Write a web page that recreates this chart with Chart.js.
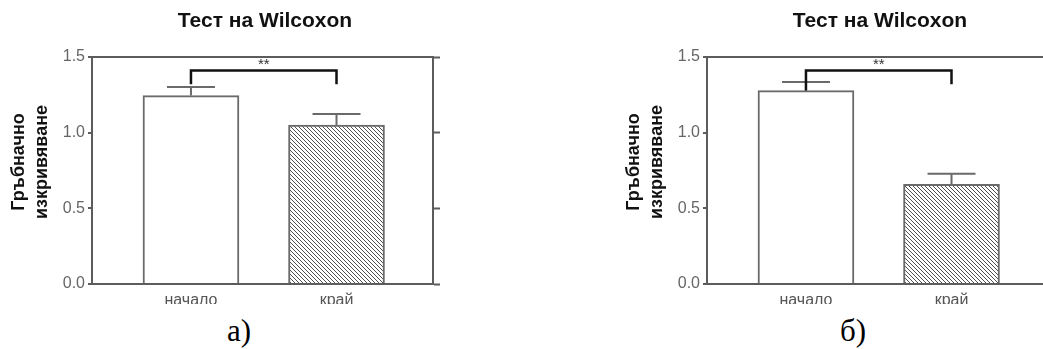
<!DOCTYPE html>
<html>
<head>
<meta charset="utf-8">
<script src="https://cdn.jsdelivr.net/npm/chart.js@4/dist/chart.umd.min.js"></script>
<style>
  html, body { margin: 0; padding: 0; background: #fff; width: 1043px; height: 349px; overflow: hidden; position: relative; }
  .panel { position: absolute; top: 0; height: 304px; overflow: hidden; }
  .panel canvas { position: absolute; left: 0; top: 0; }
  .cap { position: absolute; top: 315px; font-family: "Liberation Serif", "Times New Roman", serif; font-size: 31px; color: #000; transform: translateX(-50%); line-height: 1; white-space: nowrap; }
</style>
</head>
<body>
<div class="panel" style="left:0; width:560px;"><canvas id="chartA" width="530" height="320"></canvas></div>
<div class="panel" style="left:615px; width:428px;"><canvas id="chartB" width="530" height="320"></canvas></div>
<div class="cap" style="left:239px;">а)</div>
<div class="cap" style="left:853px;">б)</div>
<script>
// Groups and measured means with their standard errors
const categories = ['начало', 'край'];
const meansA = [1.245, 1.05];
const semA = [0.056, 0.073];
const meansB = [1.278, 0.658];
const semB = [0.056, 0.07];
const yTicks = [0, 0.5, 1.0, 1.5];

// Text and significance bracket
const chartTitle = 'Тест на Wilcoxon';
const yTitleLines = ['Гръбначно', 'изкривяване'];
const sigLabel = '**';
const bracketLevel = 1.41;
const bracketLegsA = [1.32, 1.32];
const bracketLegsB = [1.278, 1.32];

const SANS = '"Liberation Sans", Arial, Helvetica, sans-serif';
const AXIS = '#5c5c5c';
const BAR_EDGE = '#6a6a6a';

// Diagonal hatch fill for the second bar
function hatchPattern() {
  const s = 4;
  const c = document.createElement('canvas');
  c.width = s; c.height = s;
  const g = c.getContext('2d');
  g.fillStyle = '#ffffff';
  g.fillRect(0, 0, s, s);
  g.strokeStyle = '#505050';
  g.lineWidth = 1;
  g.beginPath();
  g.moveTo(-1, -1); g.lineTo(s + 1, s + 1);
  g.moveTo(-1, s - 1); g.lineTo(1, s + 1);
  g.moveTo(s - 1, -1); g.lineTo(s + 1, 1);
  g.stroke();
  return g.createPattern(c, 'repeat');
}

// Error bars, significance bracket and the two-line y title
function overlay(sem, legs) {
  return {
    id: 'overlay',
    afterDatasetsDraw(chart) {
      const { ctx } = chart;
      const x = chart.scales.x, y = chart.scales.y;
      const meta = chart.getDatasetMeta(0);
      ctx.save();
      ctx.strokeStyle = BAR_EDGE;
      ctx.lineWidth = 2;
      meta.data.forEach((bar, i) => {
        const v = chart.data.datasets[0].data[i].y;
        const cx = x.getPixelForValue(i);
        const y0 = y.getPixelForValue(v);
        const y1 = y.getPixelForValue(v + sem[i]);
        const half = bar.width / 4;
        ctx.beginPath();
        ctx.moveTo(cx, y0); ctx.lineTo(cx, y1);
        ctx.moveTo(cx - half, y1); ctx.lineTo(cx + half, y1);
        ctx.stroke();
      });
      const xa = x.getPixelForValue(0);
      const xb = x.getPixelForValue(1);
      const yl = y.getPixelForValue(bracketLevel);
      ctx.strokeStyle = '#111';
      ctx.lineWidth = 2.5;
      ctx.lineJoin = 'miter';
      ctx.beginPath();
      ctx.moveTo(xa, y.getPixelForValue(legs[0]));
      ctx.lineTo(xa, yl);
      ctx.lineTo(xb, yl);
      ctx.lineTo(xb, y.getPixelForValue(legs[1]));
      ctx.stroke();
      ctx.fillStyle = '#333';
      ctx.font = '15px ' + SANS;
      ctx.textAlign = 'center';
      ctx.textBaseline = 'alphabetic';
      ctx.fillText(sigLabel, (xa + xb) / 2, yl - 1.5);
      ctx.restore();
    },
    afterDraw(chart) {
      const { ctx } = chart;
      ctx.save();
      ctx.translate(19, 162);
      ctx.rotate(-Math.PI / 2);
      ctx.fillStyle = '#111';
      ctx.font = 'bold 18px ' + SANS;
      ctx.textAlign = 'center';
      ctx.textBaseline = 'middle';
      yTitleLines.forEach((t, i) => ctx.fillText(t, 0, i * 23));
      ctx.restore();
    }
  };
}

function buildChart(id, means, sem, legs) {
  const points = categories.map((_, i) => ({ x: i, y: means[i] }));
  const fixedTicks = s => { s.ticks = yTicks.map(v => ({ value: v })); };
  return new Chart(document.getElementById(id), {
    type: 'bar',
    data: {
      datasets: [{
        data: points,
        backgroundColor: ['#ffffff', hatchPattern()],
        borderColor: BAR_EDGE,
        borderWidth: 2,
        barThickness: 96
      }]
    },
    options: {
      responsive: false,
      animation: false,
      devicePixelRatio: 1,
      layout: { padding: 0 },
      plugins: {
        legend: { display: false },
        tooltip: { enabled: false },
        title: {
          display: true,
          text: chartTitle,
          color: '#111',
          font: { family: SANS, size: 21, weight: 'bold', lineHeight: 1.2 },
          padding: { top: 8.4, bottom: 23.4 }
        }
      },
      scales: {
        x: {
          type: 'linear',
          min: -0.68,
          max: 1.663,
          offset: false,
          afterBuildTicks: s => { s.ticks = categories.map((_, i) => ({ value: i })); },
          afterFit: s => { s.height = 36; },
          grid: { display: false, drawTicks: false },
          border: { display: true, color: AXIS, width: 2 },
          ticks: {
            color: '#555',
            font: { family: SANS, size: 16 },
            padding: 7,
            autoSkip: false,
            maxRotation: 0,
            callback: v => categories[v] ?? ''
          }
        },
        y: {
          position: 'left',
          min: 0,
          max: 1.5,
          afterBuildTicks: fixedTicks,
          afterFit: s => { s.width = 92; },
          grid: {
            drawOnChartArea: true,
            drawTicks: true,
            tickLength: 4,
            lineWidth: 2,
            tickWidth: 2,
            tickColor: AXIS,
            color: c => (c.tick && c.tick.value === 1.5) ? AXIS : 'rgba(0,0,0,0)'
          },
          border: { display: true, color: AXIS, width: 2 },
          ticks: {
            color: '#666',
            font: { family: SANS, size: 16 },
            padding: 3,
            callback: v => Number(v).toFixed(1)
          }
        },
        y2: {
          position: 'right',
          min: 0,
          max: 1.5,
          afterBuildTicks: fixedTicks,
          afterFit: s => { s.width = 97; },
          grid: { drawOnChartArea: false, drawTicks: true, tickLength: 7, tickWidth: 2, tickColor: AXIS },
          border: { display: true, color: AXIS, width: 2 },
          ticks: { display: false }
        }
      }
    },
    plugins: [overlay(sem, legs)]
  });
}

buildChart('chartA', meansA, semA, bracketLegsA);
buildChart('chartB', meansB, semB, bracketLegsB);
</script>
</body>
</html>
